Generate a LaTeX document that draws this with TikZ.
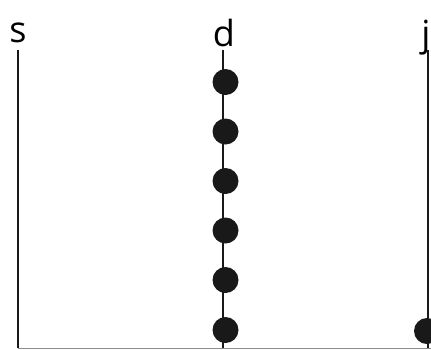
\documentclass[tikz,border=0pt]{standalone}
\usepackage{fontspec}
\setmainfont{Open Sans}
\begin{document}
\begin{tikzpicture}[x=1pt,y=-1pt,
  lbl/.style={font=\fontsize{36}{40}\selectfont, inner sep=0pt, anchor=base},
  vline/.style={line width=2pt, black!90},
  dot/.style={circle, fill=black!90, minimum size=26pt, inner sep=0pt},
  baseln/.style={line width=1pt, black!45}]
\useasboundingbox (0,0) rectangle (431,349);
\node[lbl] (ls) at (18,42) {s};
\node[lbl] (ld) at (224,46) {d};
\node[lbl] (lj) at (426,46) {j};
\coordinate (st) at (18,50);
\coordinate (sb) at (18,348);
\coordinate (dt) at (222.5,50);
\coordinate (db) at (222.5,348);
\coordinate (jt) at (427.5,50);
\coordinate (jb) at (427.5,348);
\coordinate (br) at (431,348);
\draw[baseln] (sb) -- (br);
\draw[vline] (st) -- (sb);
\draw[vline] (dt) -- (db);
\draw[vline] (jt) -- (jb);
\node[dot] (d1) at (225.5,82) {};
\node[dot] (d2) at (225.5,131.5) {};
\node[dot] (d3) at (225.5,181) {};
\node[dot] (d4) at (225.5,230.5) {};
\node[dot] (d5) at (225.5,280) {};
\node[dot] (d6) at (225.5,330) {};
\node[dot] (j1) at (427,331) {};
\end{tikzpicture}
\end{document}
